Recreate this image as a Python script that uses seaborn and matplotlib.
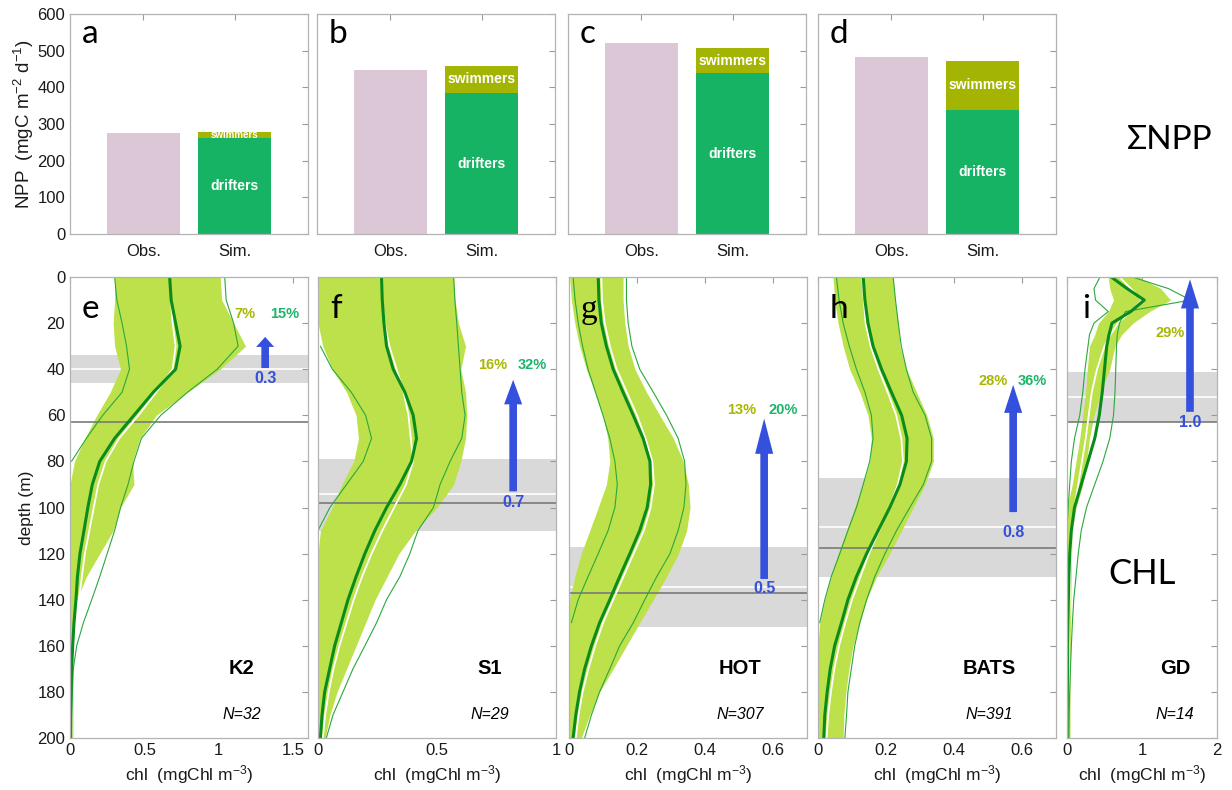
import numpy as np
import pandas as pd
import seaborn as sns
import matplotlib.pyplot as plt

# ---- top row: integrated NPP (mgC m-2 d-1)
npp_obs = [276, 446, 520, 482]
npp_drifters = [261, 384, 438, 339]
npp_swimmers = [18, 75, 68, 133]
bar_labels = ['Obs.', 'Sim.']

# ---- bottom row: chl profiles (mgChl m-3)
stations = ['K2', 'S1', 'HOT', 'BATS', 'GD']
n_obs = ['N=32', 'N=29', 'N=307', 'N=391', 'N=14']
xmax = [1.6, 1.0, 0.7, 0.7, 2.0]
xticks = [[0, 0.5, 1, 1.5], [0, 0.5, 1], [0, 0.2, 0.4, 0.6], [0, 0.2, 0.4, 0.6], [0, 1, 2]]
xticklabels = [['0', '0.5', '1', '1.5'], ['0', '0.5', '1'], ['0', '0.2', '0.4', '0.6'],
               ['0', '0.2', '0.4', '0.6'], ['0', '1', '2']]

depth = np.arange(0, 201, 10)
depth_gd = np.array([0, 5, 10, 15, 20, 25, 30, 40, 50, 60, 70, 80, 90, 100,
                     110, 120, 130, 140, 150, 160, 170, 180, 190, 200])
nan = np.nan

# K2
k2_obs_lo = [0.30, 0.30, 0.29, 0.30, 0.34, 0.27, 0.18, 0.10, 0.03, 0, 0, 0, 0, 0, 0, 0, 0, 0, 0, 0, 0]
k2_obs_hi = [1.01, 1.02, 1.10, 1.18, 1.01, 0.79, 0.58, 0.47, 0.42, 0.43, 0.34, 0.29, 0.20, 0.11,
             0.045, 0.02, 0.02, 0.02, 0.02, 0.02, 0.02]
k2_obs_mean = [0.67, 0.68, 0.69, 0.71, 0.69, 0.58, 0.46, 0.33, 0.24, 0.19, 0.16, 0.13, 0.10, 0.08,
               0.06, 0.045, 0.03, 0.02, 0.015, 0.012, 0.01]
k2_mod = [0.67, 0.68, 0.71, 0.74, 0.71, 0.56, 0.43, 0.30, 0.20, 0.15, 0.12, 0.094, 0.067, 0.05,
          0.04, 0.027, 0.018, 0.011, 0.007, 0.005, 0.003]
k2_mod_lo = [0.30, 0.315, 0.35, 0.38, 0.40, 0.35, 0.22, 0.11, 0.01, nan, nan, nan, nan, nan,
             nan, nan, nan, nan, nan, nan, nan]
k2_mod_hi = [1.04, 1.05, 1.10, 1.13, 0.99, 0.79, 0.61, 0.48, 0.43, 0.39, 0.34, 0.30, 0.25, 0.20,
             0.146, 0.09, 0.045, 0.022, 0.016, 0.011, 0.011]

# S1
s1_obs_lo = [0, 0, 0, 0.02, 0.06, 0.12, 0.16, 0.17, 0.15, 0.10, 0.06, 0.01, 0, 0, 0, 0, 0, 0, 0, 0, 0]
s1_obs_hi = [0.57, 0.576, 0.59, 0.62, 0.60, 0.62, 0.625, 0.62, 0.60, 0.57, 0.50, 0.41, 0.34, 0.29,
             0.24, 0.20, 0.16, 0.12, 0.08, 0.05, 0.03]
s1_obs_mean = [0.27, 0.27, 0.28, 0.30, 0.33, 0.36, 0.38, 0.39, 0.40, 0.37, 0.32, 0.27, 0.225, 0.185,
               0.15, 0.12, 0.09, 0.065, 0.045, 0.03, 0.02]
s1_mod = [0.267, 0.27, 0.277, 0.288, 0.316, 0.365, 0.40, 0.414, 0.393, 0.344, 0.288, 0.239, 0.197,
          0.16, 0.126, 0.098, 0.07, 0.049, 0.028, 0.017, 0.01]
s1_mod_lo = [nan, nan, nan, 0.01, 0.06, 0.14, 0.20, 0.225, 0.19, 0.12, 0.05, 0.0, nan, nan,
             nan, nan, nan, nan, nan, nan, nan]
s1_mod_hi = [0.57, 0.575, 0.583, 0.59, 0.597, 0.604, 0.618, 0.604, 0.555, 0.513, 0.485, 0.42, 0.386,
             0.344, 0.288, 0.246, 0.197, 0.147, 0.105, 0.063, 0.035]

# HOT
hot_obs_lo = [0.002, 0.007, 0.017, 0.031, 0.051, 0.076, 0.10, 0.114, 0.12, 0.11, 0.086, 0.061,
              0.036, 0.017, 0.002, 0, 0, 0, 0, 0, 0]
hot_obs_hi = [0.159, 0.159, 0.164, 0.174, 0.194, 0.228, 0.267, 0.307, 0.336, 0.351, 0.356, 0.346,
              0.322, 0.287, 0.248, 0.208, 0.169, 0.13, 0.09, 0.061, 0.036]
hot_obs_mean = [0.095, 0.097, 0.105, 0.12, 0.14, 0.17, 0.20, 0.225, 0.245, 0.25, 0.24, 0.22, 0.19,
                0.16, 0.13, 0.10, 0.077, 0.057, 0.04, 0.028, 0.02]
hot_mod = [0.086, 0.088, 0.095, 0.11, 0.13, 0.159, 0.189, 0.218, 0.238, 0.24, 0.23, 0.208, 0.179,
           0.149, 0.12, 0.09, 0.066, 0.046, 0.031, 0.02, 0.012]
hot_mod_lo = [0.012, 0.018, 0.027, 0.04, 0.056, 0.078, 0.10, 0.12, 0.135, 0.142, 0.135, 0.115,
              0.086, 0.056, 0.027, 0.007, nan, nan, nan, nan, nan]
hot_mod_hi = [0.169, 0.169, 0.174, 0.185, 0.208, 0.248, 0.287, 0.321, 0.34, 0.344, 0.338, 0.321,
              0.297, 0.258, 0.223, 0.189, 0.149, 0.12, 0.09, 0.066, 0.046]

# BATS
bats_obs_lo = [0.044, 0.049, 0.059, 0.074, 0.093, 0.123, 0.147, 0.157, 0.152, 0.133, 0.108, 0.084,
               0.059, 0.039, 0.02, 0.005, 0, 0, 0, 0, 0]
bats_obs_hi = [0.221, 0.226, 0.236, 0.241, 0.26, 0.29, 0.32, 0.339, 0.339, 0.315, 0.28, 0.246,
               0.211, 0.172, 0.143, 0.123, 0.103, 0.091, 0.082, 0.076, 0.074]
bats_obs_mean = [0.13, 0.135, 0.14, 0.155, 0.178, 0.205, 0.23, 0.245, 0.25, 0.235, 0.21, 0.18,
                 0.15, 0.125, 0.10, 0.08, 0.062, 0.048, 0.038, 0.03, 0.025]
bats_mod = [0.133, 0.138, 0.147, 0.162, 0.187, 0.216, 0.246, 0.262, 0.26, 0.241, 0.211, 0.177,
            0.143, 0.113, 0.088, 0.069, 0.049, 0.036, 0.027, 0.02, 0.017]
bats_mod_lo = [0.054, 0.062, 0.074, 0.092, 0.113, 0.138, 0.157, 0.162, 0.152, 0.133, 0.113, 0.088,
               0.064, 0.039, 0.02, 0.005, nan, nan, nan, nan, nan]
bats_mod_hi = [0.221, 0.228, 0.236, 0.245, 0.26, 0.28, 0.315, 0.334, 0.334, 0.31, 0.27, 0.231,
               0.197, 0.167, 0.143, 0.123, 0.108, 0.098, 0.088, 0.084, 0.079]

# GD (finer near the surface)
gd_obs_lo = [0.55, 0.57, 0.62, 0.55, 0.42, 0.37, 0.30, 0.27, 0.25, 0.21, 0.17, 0.12, 0.07, 0.0,
             0, 0, 0, 0, 0, 0, 0, 0, 0, 0]
gd_obs_hi = [0.95, 1.25, 1.38, 1.10, 0.88, 0.73, 0.64, 0.57, 0.45, 0.36, 0.30, 0.26, 0.21, 0.12,
             0.07, 0.06, 0.055, 0.05, 0.048, 0.045, 0.043, 0.04, 0.04, 0.04]
gd_obs_mean = [0.70, 0.85, 1.00, 0.85, 0.68, 0.58, 0.50, 0.40, 0.33, 0.29, 0.25, 0.20, 0.15, 0.10,
               0.07, 0.05, 0.04, 0.035, 0.03, 0.028, 0.026, 0.024, 0.023, 0.022]
gd_mod = [0.59, 0.80, 1.03, 0.85, 0.60, 0.56, 0.53, 0.50, 0.47, 0.43, 0.37, 0.28, 0.19, 0.10,
          0.058, 0.036, 0.025, 0.018, 0.013, 0.009, 0.007, 0.005, 0.003, 0.002]
gd_mod_lo = [0.44, 0.36, 0.38, 0.55, 0.36, 0.30, 0.28, 0.24, 0.21, 0.17, 0.10, 0.058, 0.036, 0.015,
             0.0, nan, nan, nan, nan, nan, nan, nan, nan, nan]
gd_mod_hi = [0.87, 1.35, 1.65, 0.78, 0.70, 0.67, 0.66, 0.65, 0.64, 0.62, 0.57, 0.48, 0.37, 0.26,
             0.19, 0.15, 0.12, 0.09, 0.072, 0.058, 0.046, 0.036, 0.03, 0.027]

profiles = [
    (depth, k2_obs_lo, k2_obs_hi, k2_obs_mean, k2_mod, k2_mod_lo, k2_mod_hi),
    (depth, s1_obs_lo, s1_obs_hi, s1_obs_mean, s1_mod, s1_mod_lo, s1_mod_hi),
    (depth, hot_obs_lo, hot_obs_hi, hot_obs_mean, hot_mod, hot_mod_lo, hot_mod_hi),
    (depth, bats_obs_lo, bats_obs_hi, bats_obs_mean, bats_mod, bats_mod_lo, bats_mod_hi),
    (depth_gd, gd_obs_lo, gd_obs_hi, gd_obs_mean, gd_mod, gd_mod_lo, gd_mod_hi),
]

# grey band (range), white line and dark line depths (m)
band_top = [34, 79, 117, 87, 41]
band_bot = [46, 110, 152, 130, 63]
band_white = [40, 94, 134.5, 108.5, 52]
band_dark = [63, 98, 137, 117.5, 63]

# blue arrows: tail / tip depth and value
arrow_tail = [39.5, 93, 131, 102, 58.5]
arrow_tip = [26, 44.6, 61.4, 46.8, 1]
arrow_value = ['0.3', '0.7', '0.5', '0.8', '1.0']
arrow_label_depth = [44, 98, 135, 111, 63]

pct_swimmers = ['7%', '16%', '13%', '28%', '29%']
pct_drifters = ['15%', '32%', '20%', '36%', '']
pct_depth = [16, 38, 57.5, 45, 24.4]
pct_x_sw = [0.735, 0.735, 0.726, 0.734, 0.69]

# colours
c_obs = '#dcc7d6'
c_drift = '#17b364'
c_swim = '#a3b402'
c_fill = '#bce14b'
c_mod = '#0a8c1c'
c_thin = '#2ba83c'
c_band = '#d9d9d9'
c_arrow = '#3550dc'
c_pct_sw = '#a8b700'
c_pct_dr = '#1cb56a'
c_spine = '#b3b3b3'

sns.set_style('white')
plt.rcParams['font.family'] = ['Liberation Sans', 'DejaVu Sans']
plt.rcParams.update({
    'mathtext.fontset': 'custom',
    'mathtext.rm': 'Liberation Sans',
    'mathtext.it': 'Liberation Sans:italic',
    'text.color': 'black',
    'axes.labelcolor': '#1a1a1a',
    'xtick.direction': 'in',
    'ytick.direction': 'in',
    'xtick.color': '#9a9a9a',
    'ytick.color': '#9a9a9a',
    'xtick.labelcolor': '#1a1a1a',
    'ytick.labelcolor': '#1a1a1a',
    'xtick.major.size': 4,
    'ytick.major.size': 4,
    'axes.edgecolor': c_spine,
    'axes.linewidth': 0.9,
})

W, H = 1232, 790
fig = plt.figure(figsize=(W / 100, H / 100), dpi=100)


def box(x0, y0, w, h):
    return [x0 / W, 1 - (y0 + h) / H, w / W, h / H]


letter_font = ['Lato', 'DejaVu Sans']

# ---- top row
top_left = [70, 317, 568, 818]
for k in range(4):
    ax = fig.add_axes(box(top_left[k], 14, 238, 220))
    total = npp_drifters[k] + npp_swimmers[k]
    df = pd.DataFrame({'src': bar_labels, 'npp': [npp_obs[k], total]})
    sns.barplot(data=df, x='src', y='npp', hue='src', order=bar_labels, hue_order=bar_labels,
                palette=[c_obs, c_swim], width=0.8, saturation=1, errorbar=None,
                legend=False, edgecolor='none', ax=ax)
    sns.barplot(data=pd.DataFrame({'src': ['Sim.'], 'npp': [npp_drifters[k]]}), x='src', y='npp',
                order=bar_labels, color=c_drift, width=0.8, saturation=1, errorbar=None,
                edgecolor='none', ax=ax)
    ax.text(1, npp_drifters[k] / 2, 'drifters', color='white', fontweight='bold',
            fontsize=10, ha='center', va='center')
    ax.text(1, npp_drifters[k] + npp_swimmers[k] / 2, 'swimmers', color='white',
            fontweight='bold', fontsize=7 if npp_swimmers[k] < 40 else 10,
            ha='center', va='center')
    ax.set_xlim(-0.8, 1.8)
    ax.set_ylim(0, 600)
    ax.set_yticks(range(0, 601, 100))
    ax.set_xlabel('')
    ax.set_ylabel('')
    ax.tick_params(top=True, right=True, labelsize=12, width=0.8)
    ax.tick_params(axis='x', pad=7)
    if k == 0:
        ax.set_ylabel('NPP  (mgC m$^{-2}$ d$^{-1}$)', fontsize=13.5, labelpad=1)
    else:
        ax.tick_params(labelleft=False)
    ax.text(12 / 238, 0.868, 'abcd'[k], transform=ax.transAxes, fontsize=24,
            family=letter_font, ha='left', va='baseline')

fig.text(1170 / W, 1 - 140 / H, '\u03a3NPP', fontsize=24, family=letter_font,
         ha='center', va='center')

# ---- bottom row
bot_left = [70, 318, 569, 818, 1067]
bot_width = [238, 238, 238, 238, 150]


def prof(ax, x, d, **kw):
    x = np.asarray(x, float)
    m = ~np.isnan(x)
    sns.lineplot(x=x[m], y=d[m], orient='y', sort=False, estimator=None, ax=ax, **kw)


for k in range(5):
    ax = fig.add_axes(box(bot_left[k], 277, bot_width[k], 461))
    d, olo, ohi, omean, mod, mlo, mhi = profiles[k]

    ax.axhspan(band_top[k], band_bot[k], color=c_band, lw=0, zorder=0)
    ax.axhline(band_white[k], color='white', lw=1.2, zorder=0.5)
    ax.fill_betweenx(d, olo, ohi, color=c_fill, lw=0, zorder=1)
    ax.axhline(band_dark[k], color='#7a7a7a', lw=1.2, zorder=1.5)
    prof(ax, omean, d, color='white', lw=1.3, zorder=2)
    prof(ax, mlo, d, color=c_thin, lw=0.8, zorder=3)
    prof(ax, mhi, d, color=c_thin, lw=0.8, zorder=3)
    prof(ax, mod, d, color=c_mod, lw=2.2, zorder=4)

    # arrow
    ax_x = 0.82 * xmax[k]
    span_px = abs(arrow_tail[k] - arrow_tip[k]) * 461 / 200
    hl = max(10, 0.22 * span_px) / 1.389
    ax.annotate('', xy=(ax_x, arrow_tip[k]), xytext=(ax_x, arrow_tail[k]),
                arrowprops=dict(facecolor=c_arrow, edgecolor='none', width=5.5,
                                headwidth=13, headlength=hl, shrink=0), zorder=5)
    ax.text(ax_x, arrow_label_depth[k], arrow_value[k], color=c_arrow, fontsize=11.5,
            fontweight='bold', ha='center', va='center', zorder=6)

    tr = ax.get_yaxis_transform()
    ax.text(pct_x_sw[k], pct_depth[k], pct_swimmers[k], transform=tr, color=c_pct_sw,
            fontsize=10.5, fontweight='bold', ha='center', va='center', zorder=6)
    if pct_drifters[k]:
        ax.text(0.90, pct_depth[k], pct_drifters[k], transform=tr, color=c_pct_dr,
                fontsize=10.5, fontweight='bold', ha='center', va='center', zorder=6)

    ax.text(0.72, 0.15, stations[k], transform=ax.transAxes, fontsize=14.5,
            fontweight='bold', ha='center', va='center')
    ax.text(0.72, 0.05, n_obs[k], transform=ax.transAxes, fontsize=11.5,
            style='italic', ha='center', va='center')

    ax.set_xlim(0, xmax[k])
    ax.set_ylim(200, 0)
    ax.set_xticks(xticks[k])
    ax.set_xticklabels(xticklabels[k])
    ax.set_yticks(range(0, 201, 20))
    ax.tick_params(top=True, right=True, labelsize=12, width=0.8)
    ax.set_xlabel('chl  (mgChl m$^{-3}$)', fontsize=12.5, labelpad=4)
    if k == 0:
        ax.set_ylabel('depth (m)', fontsize=12.5, labelpad=2)
    else:
        ax.set_ylabel('')
        ax.tick_params(labelleft=False)
    for s in ax.spines.values():
        s.set_zorder(7)

    lf = ['Liberation Serif', 'DejaVu Serif'] if k == 2 else letter_font
    ax.text(12 / bot_width[k] if k < 4 else 15 / bot_width[k], 0.91, 'efghi'[k],
            transform=ax.transAxes, fontsize=24, family=lf, ha='left', va='baseline', zorder=8)
    if k == 4:
        ax.text(0.5, 0.355, 'CHL', transform=ax.transAxes, fontsize=25, family=letter_font,
                ha='center', va='center')

fig.savefig('out.png', dpi=100)
